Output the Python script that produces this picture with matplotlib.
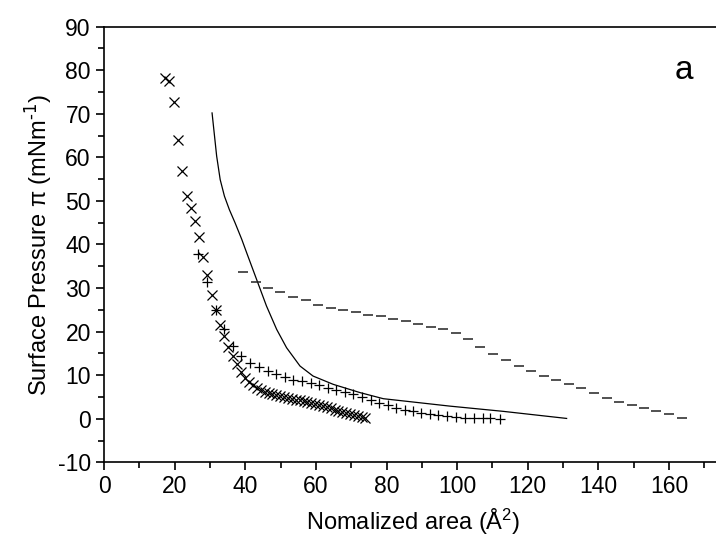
import matplotlib
matplotlib.use("Agg")
import matplotlib.pyplot as plt
from matplotlib.ticker import MultipleLocator

plt.rcParams['font.family'] = ['Liberation Sans', 'DejaVu Sans']
plt.rcParams['mathtext.default'] = 'regular'
plt.rcParams['axes.unicode_minus'] = False

# isotherm with x markers
cross_x = [17.3, 18.5, 19.8, 20.9, 22.1, 23.4, 24.5, 25.8, 26.8, 28.1, 29.3, 30.6,
           31.7, 32.8, 34.0, 35.2, 36.4, 37.6,
           38.8, 40.0, 41.1, 42.2, 43.3, 44.4, 45.5, 46.6, 47.7, 48.8, 49.9, 51.0,
           52.1, 53.2, 54.3, 55.4, 56.5, 57.6, 58.7, 59.8, 60.9, 62.0, 63.1, 64.2,
           65.3, 66.4, 67.5, 68.6, 69.7, 70.8, 71.9, 73.0, 74.0]
cross_y = [78.3, 77.5, 72.7, 64.0, 56.8, 51.1, 48.3, 45.4, 41.8, 37.1, 32.9, 28.5,
           24.9, 21.6, 19.0, 16.5, 14.4, 12.5,
           10.8, 9.4, 8.4, 7.7, 7.1, 6.6, 6.2, 5.9, 5.6, 5.4, 5.2, 5.0,
           4.8, 4.6, 4.4, 4.2, 4.0, 3.8, 3.6, 3.4, 3.1, 2.9, 2.6, 2.4,
           2.1, 1.8, 1.6, 1.3, 1.1, 0.8, 0.6, 0.3, 0.1]

# isotherm with + markers
plus_x = [26.5, 29.1, 31.7, 34.0, 36.4, 38.7, 41.3, 44.0, 46.3, 48.7, 51.2, 53.6,
          56.0, 58.5, 60.9, 63.3, 65.7, 68.2, 70.6, 73.1, 75.6, 77.9, 80.3, 82.8,
          85.2, 87.5, 89.9, 92.3, 94.6, 97.2, 99.6, 102.2, 104.7, 107.2, 109.4, 112.1]
plus_y = [37.9, 31.4, 24.9, 20.5, 16.7, 14.5, 12.9, 11.9, 10.9, 10.2, 9.6, 9.0,
          8.6, 8.3, 7.7, 7.1, 6.6, 6.1, 5.6, 5.0, 4.2, 3.7, 3.1, 2.5,
          2.1, 1.7, 1.4, 1.0, 0.8, 0.6, 0.5, 0.2, 0.2, 0.1, 0.1, 0.05]

# isotherm drawn as solid line
line_x = [30.6, 31.9, 32.9, 34.1, 35.5, 37.1, 39.0, 40.4, 43.2, 46.0, 48.9, 51.7,
          55.5, 59.2, 64.9, 72.5, 79.1, 97.9, 113.0, 131.0]
line_y = [70.2, 60.3, 54.9, 51.1, 48.0, 45.0, 41.2, 38.1, 32.0, 25.9, 20.5, 16.3,
          12.1, 9.8, 7.9, 6.0, 4.6, 2.9, 1.7, 0.07]

# isotherm with dash markers
dash_x = [39.3, 43.0, 46.3, 49.9, 53.6, 57.1, 60.7, 64.2, 67.7, 71.3, 74.8, 78.3,
          81.9, 85.4, 89.0, 92.5, 96.0, 99.6, 103.1, 106.6, 110.2, 113.8, 117.4,
          120.9, 124.5, 128.1, 131.6, 135.2, 138.8, 142.3, 145.9, 149.4, 152.9,
          156.4, 160.0, 163.6]
dash_y = [33.7, 31.5, 30.0, 29.1, 28.0, 27.2, 26.2, 25.5, 24.9, 24.4, 23.9, 23.5,
          23.0, 22.4, 21.7, 21.1, 20.5, 19.7, 18.4, 16.5, 14.8, 13.4, 12.1,
          10.9, 9.8, 8.8, 7.9, 7.0, 5.8, 4.8, 3.8, 3.2, 2.5,
          1.7, 1.0, 0.1]

fig = plt.figure(figsize=(7.16, 5.5), dpi=100)
ax = fig.add_axes([104 / 716, 87.7 / 550, 618 / 716, 435.6 / 550])

ax.plot(cross_x, cross_y, linestyle='none', marker='x', markersize=7,
        markeredgewidth=0.9, color='black')
ax.plot(plus_x, plus_y, linestyle='none', marker='+', markersize=7,
        markeredgewidth=0.9, color='black')
ax.plot(line_x, line_y, color='black', linewidth=0.9)
ax.plot(dash_x, dash_y, linestyle='none', marker='_', markersize=6.5,
        markeredgewidth=1.1, color='#222222')

ax.set_xlim(0, 175)
ax.set_ylim(-10, 90)
ax.xaxis.set_major_locator(MultipleLocator(20))
ax.xaxis.set_minor_locator(MultipleLocator(10))
ax.yaxis.set_major_locator(MultipleLocator(10))
ax.yaxis.set_minor_locator(MultipleLocator(5))
ax.tick_params(which='major', direction='out', length=6, width=1.2, labelsize=16.5,
               top=False, right=False)
ax.tick_params(which='minor', direction='out', length=4, width=1.2,
               top=False, right=False)
for side in ['left', 'bottom', 'top', 'right']:
    ax.spines[side].set_linewidth(1.2)

ax.set_xlabel('Nomalized area (Å$^{2}$)', fontsize=17, labelpad=6)
ax.set_ylabel('Surface Pressure π (mNm$^{\\mathrm{‐1}}$)', fontsize=17, labelpad=3)

ax.text(164.3, 80, 'a', fontsize=24, ha='center', va='center')

fig.savefig('out.png', dpi=100)
